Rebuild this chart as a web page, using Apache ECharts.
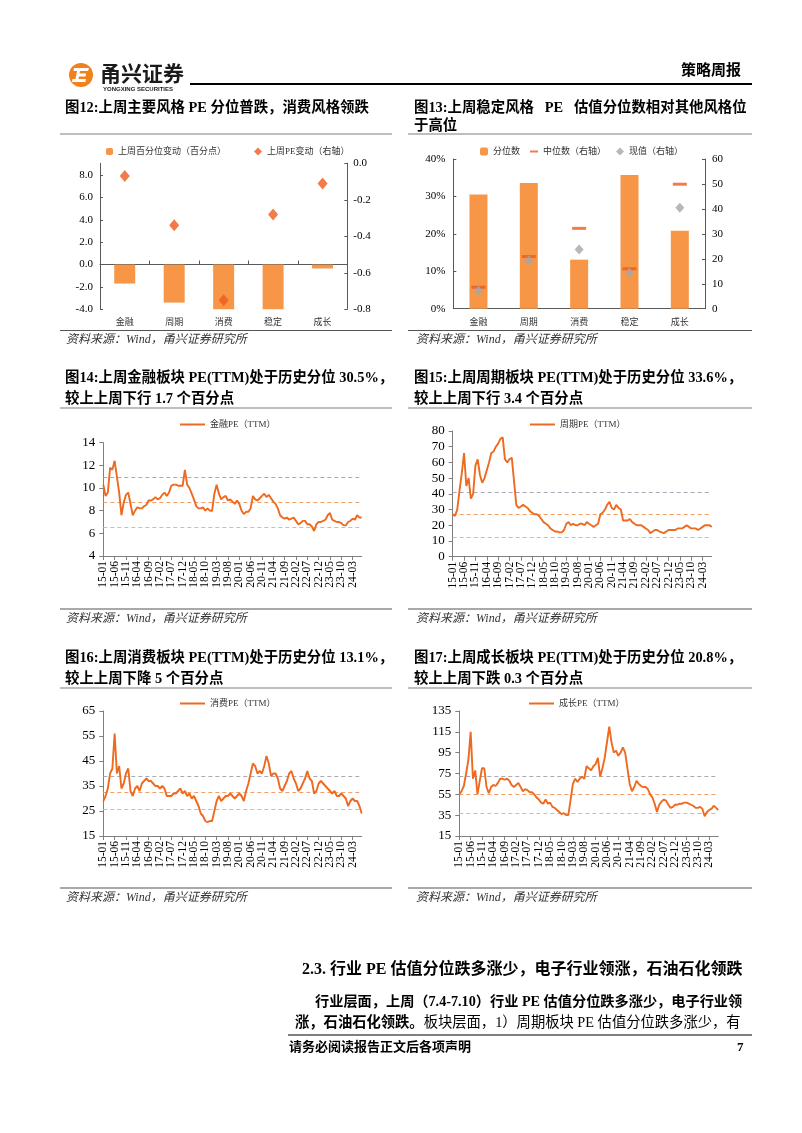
<!DOCTYPE html>
<html><head><meta charset="utf-8">
<script src="https://cdn.jsdelivr.net/npm/echarts@6/dist/echarts.min.js"></script>
<style>html,body{margin:0;padding:0;background:#fff}#c{width:802px;height:1133px}</style>
</head><body><div id="c"></div>
<script>
// ---------- data ----------
const styleCats = ['金融','周期','消费','稳定','成长'];
// Fig 12
const pctChange = [-1.7, -3.4, -4.1, -4.05, -0.35];
const peChange = [-0.07, -0.34, -0.75, -0.28, -0.11];
// Fig 13
const pctRank = [30.5, 33.6, 13.1, 35.7, 20.8];
const medianPE = [8.6, 20.9, 32.2, 16.0, 49.9];
const currentPE = [7.2, 19.3, 23.7, 14.4, 40.5];
// monthly categories 2015-01 .. 2024-07
const months = [];
for (let y = 2015; y <= 2024; y++) for (let m = 1; m <= 12; m++) { if (y === 2024 && m > 7) break; months.push(String(y).slice(2) + '-' + String(m).padStart(2, '0')); }
const finPE = [
 10.3, 9.3, 9.6, 11.8, 11.6, 12.4, 11.0, 9.6, 7.6, 8.7, 9.4, 9.6,
 8.6, 7.6, 8.0, 8.3, 8.2, 8.2, 8.4, 8.5, 8.9, 8.9, 9.0, 9.2,
 9.0, 9.1, 9.4, 9.6, 9.3, 9.6, 10.2, 10.3, 10.3, 10.2, 10.2, 10.2,
 11.6, 10.3, 10.0, 9.5, 9.0, 8.4, 8.2, 8.2, 8.3, 8.0, 8.2, 8.0,
 8.0, 9.5, 10.3, 9.5, 9.0, 9.2, 9.3, 8.9, 9.0, 8.8, 8.6, 8.9,
 8.6, 8.0, 7.7, 7.9, 7.9, 8.2, 9.3, 9.0, 8.9, 9.1, 9.3, 9.5,
 9.2, 9.4, 9.1, 8.8, 8.6, 8.2, 7.6, 7.4, 7.3, 7.4, 7.2, 7.3,
 7.4, 7.1, 6.8, 6.9, 7.1, 7.1, 6.8, 6.8, 6.6, 6.2, 6.8, 7.0,
 7.0, 7.1, 7.2, 7.6, 7.8, 7.2, 7.1, 7.0, 7.0, 6.9, 6.7, 6.7,
 7.0, 7.1, 7.3, 7.2, 7.6, 7.4, 7.4];
const cycPE = [
 27, 26, 30, 42, 53, 66, 45, 50, 37, 40, 58, 62,
 52, 47, 50, 55, 60, 66, 67, 70, 72, 75, 76, 62,
 60, 62, 63, 48, 33, 31, 32, 33, 32, 31, 29, 28,
 27, 27, 26, 24, 22, 21, 20, 18, 17, 16, 16, 15.5,
 15.5, 17, 21, 22, 20, 21, 20, 20, 21, 21, 20, 22,
 21, 20, 19, 20, 21, 27, 28, 30, 33, 35, 31, 30,
 33, 31, 30, 23, 23, 23, 24, 22, 21, 20, 20, 20,
 19, 18, 17, 15, 16, 17, 17, 16, 15.5, 15, 16, 17,
 17, 17, 17, 18, 18, 18, 19, 20, 19, 18, 18, 18,
 17, 18, 19, 20, 20, 20, 19];
const conPE = [
 29, 31, 34, 40, 42, 56, 40, 43, 34, 36, 40, 42,
 33, 31, 34, 35, 33, 36, 37, 38, 37, 37, 36, 35,
 35, 34, 35, 34, 31, 31, 31, 32, 32, 33, 34, 32,
 33, 31, 32, 30, 31, 29, 27, 24, 23, 21, 20.5, 21,
 21, 25, 29, 31, 29, 30, 31, 31, 32, 31, 30, 31,
 32, 31, 29, 33, 36, 40, 44, 43, 40, 41, 40, 43,
 47, 44, 39, 40, 40, 38, 34, 33, 35, 37, 40, 41,
 38, 36, 33, 34, 36, 38, 41, 38, 37, 32, 33, 36,
 37, 36, 35, 34, 33, 32, 33, 31, 31, 32, 31, 30,
 27, 29, 30, 29, 29, 27, 24];
const groPE = [
 55, 58, 63, 75, 88, 115, 70, 78, 55, 68, 80, 80,
 62, 56, 62, 64, 63, 66, 70, 70, 69, 70, 68, 64,
 62, 64, 66, 62, 58, 60, 59, 57, 57, 55, 52, 50,
 47, 46, 50, 46, 47, 43, 42, 40, 38, 36, 37, 35,
 35, 50, 65, 70, 67, 70, 72, 70, 82, 80, 78, 82,
 84, 90, 72, 80, 90, 105, 120, 105, 95, 97, 92, 95,
 100, 95, 80, 65, 58, 62, 68, 65, 63, 62, 62, 60,
 55, 52, 46, 38, 45, 48, 50, 49, 45, 42, 43, 45,
 45, 46, 46, 47, 47, 46, 45, 44, 42, 42, 43, 41,
 34, 38, 40, 41, 44, 42, 40];
// reference (dashed) levels: [upper, middle, lower]
const finBands = [10.95, 8.75, 6.55];
const cycBands = [41, 27.2, 12.5];
const conBands = [39, 32.4, 25.7];
const groBands = [72.8, 55, 37];
const labelEvery = 5; // one x label every 5 months

// ---------- styles ----------
const SER = "'Liberation Serif','Noto Sans CJK SC',serif";
const CJK = "'Noto Sans CJK SC','Liberation Serif',sans-serif";
const ORANGE = '#F79646', RED = '#EE5A1E', LINE = '#EE6A1F', GREY = '#A6A6A6';
const AX = '#7F7F7F';

function T(x, y, text, font, extra) {
  return { type: 'text', x: x, y: y, silent: true, z: 10,
    style: Object.assign({ text: text, font: font, fill: '#000', verticalAlign: 'middle', align: 'left' }, extra || {}) };
}
function L(x1, y1, x2, y2, color, w) {
  return { type: 'line', silent: true, shape: { x1: x1, y1: y1, x2: x2, y2: y2 }, style: { stroke: color, lineWidth: w } };
}
const titleFont = 'bold 14.4px ' + SER;
const srcFont = 'italic 12px ' + SER;
const srcText = '资料来源：Wind，甬兴证券研究所';

const graphics = [
  // header
  { type: 'circle', silent: true, shape: { cx: 81, cy: 75, r: 12 }, style: { fill: '#F0821E' } },
  { type: 'polygon', silent: true, shape: { points: [[74,68],[89,68],[88,71],[80,71],[79.5,73.5],[86,73.5],[85.5,76.5],[79,76.5],[78.5,79],[86,79],[85.5,82],[72,82],[72.5,79],[75.5,79],[77,71],[73.5,71]] }, style: { fill: '#fff' } },
  T(100, 73, '甬兴证券', 'bold 21px ' + CJK, { fill: '#1a1a1a' }),
  T(103, 89, 'YONGXING SECURITIES', 'bold 6px Liberation Sans', { fill: '#1a1a1a' }),
  L(190, 84, 752, 84, '#000', 2),
  T(741, 69, '策略周报', 'bold 15px ' + CJK, { align: 'right' }),
  // fig 12
  T(65, 108, '图12:上周主要风格 PE 分位普跌，消费风格领跌', titleFont),
  L(60, 134, 392, 134, AX, 1.2),
  L(60, 330.5, 392, 330.5, '#555', 1.2),
  T(66, 340, srcText, srcFont, { fill: '#333' }),
  // fig 13
  T(414, 108, '图13:上周稳定风格   PE   估值分位数相对其他风格位', titleFont),
  T(414, 126, '于高位', titleFont),
  L(408, 134, 752, 134, AX, 1.2),
  L(408, 330.5, 752, 330.5, '#555', 1.2),
  T(416, 340, srcText, srcFont, { fill: '#333' }),
  // fig 14
  T(65, 378, '图14:上周金融板块 PE(TTM)处于历史分位 30.5%，', titleFont),
  T(65, 399, '较上上周下行 1.7 个百分点', titleFont),
  L(60, 408, 392, 408, AX, 1.2),
  L(60, 609, 392, 609, '#555', 1.2),
  T(66, 619, srcText, srcFont, { fill: '#333' }),
  // fig 15
  T(414, 378, '图15:上周周期板块 PE(TTM)处于历史分位 33.6%，', titleFont),
  T(414, 399, '较上上周下行 3.4 个百分点', titleFont),
  L(408, 408, 752, 408, AX, 1.2),
  L(408, 609, 752, 609, '#555', 1.2),
  T(416, 619, srcText, srcFont, { fill: '#333' }),
  // fig 16
  T(65, 658, '图16:上周消费板块 PE(TTM)处于历史分位 13.1%，', titleFont),
  T(65, 679, '较上上周下降 5 个百分点', titleFont),
  L(60, 688, 392, 688, AX, 1.2),
  L(60, 888, 392, 888, '#555', 1.2),
  T(66, 898, srcText, srcFont, { fill: '#333' }),
  // fig 17
  T(414, 658, '图17:上周成长板块 PE(TTM)处于历史分位 20.8%，', titleFont),
  T(414, 679, '较上上周下跌 0.3 个百分点', titleFont),
  L(408, 688, 752, 688, AX, 1.2),
  L(408, 888, 752, 888, '#555', 1.2),
  T(416, 898, srcText, srcFont, { fill: '#333' }),
  // body text
  T(302, 970, '2.3. 行业 PE 估值分位跌多涨少，电子行业领涨，石油石化领跌', 'bold 16px ' + SER),
  T(315, 1002, '行业层面，上周（7.4-7.10）行业 PE 估值分位跌多涨少，电子行业领', 'bold 14.2px ' + SER),
  { type: 'text', x: 295, y: 1023, silent: true, style: { text: '{b|涨，石油石化领跌。}{n|板块层面，1）周期板块 PE 估值分位跌多涨少，有}', verticalAlign: 'middle', align: 'left',
      rich: { b: { font: 'bold 14.3px ' + SER, fill: '#000' }, n: { font: '14.3px ' + SER, fill: '#000' } } } },
  L(288, 1035, 752, 1035, '#000', 1.2),
  T(289, 1048, '请务必阅读报告正文后各项声明', 'bold 13px ' + SER),
  T(737, 1048, '7', 'bold 13px ' + SER)
];

// ---------- axes ----------
const catLabel = { fontFamily: CJK, fontSize: 9, color: '#333' };
const numLabel = { fontFamily: SER, fontSize: 11, color: '#000' };
const everyN = idx => idx % labelEvery === 0;
function catAxis(grid, data, extra) {
  return Object.assign({ type: 'category', gridIndex: grid, data: data }, extra);
}
function tsX(grid) {
  return { type: 'category', gridIndex: grid, data: months, boundaryGap: false,
    axisLine: { lineStyle: { color: AX, width: 1 } },
    axisTick: { show: true, interval: everyN, length: 4, lineStyle: { color: AX } },
    axisLabel: { interval: everyN, showMinLabel: true, showMaxLabel: true, hideOverlap: false, rotate: 90, margin: 5, fontFamily: SER, fontSize: 11.5, color: '#000' },
    splitLine: { show: false } };
}
function tsY(grid, min, max, step) {
  return { type: 'value', gridIndex: grid, min: min, max: max, interval: step,
    axisLine: { show: true, lineStyle: { color: AX, width: 1 } },
    axisTick: { show: true, length: 4, lineStyle: { color: AX } },
    axisLabel: { fontFamily: SER, fontSize: 13, color: '#000', margin: 8 },
    splitLine: { show: false } };
}
function tsSeries(name, data, xi, yi, bands) {
  const cols = ['#A9A9B8', '#F2A065', '#F5C518'];
  return { type: 'line', name: name, xAxisIndex: xi, yAxisIndex: yi, data: data, showSymbol: false, symbol: 'none',
    lineStyle: { color: LINE, width: 1.9 }, itemStyle: { color: LINE }, z: 3,
    markLine: { silent: true, symbol: 'none', label: { show: false }, animation: false, z: 1,
      data: bands.map((v, i) => ({ yAxis: v, lineStyle: { color: cols[i], type: [4, 3], width: 1.2 } })) } };
}
const tsLegend = (name, left, top) => ({ data: [name], left: left, top: top, padding: 0, itemWidth: 25, itemHeight: 10,
  icon: 'path://M0,0 L25,0 L25,2 L0,2 Z', textStyle: { fontFamily: SER, fontSize: 9, color: '#333' } });

const option = {
  animation: false,
  backgroundColor: '#fff',
  graphic: { elements: graphics },
  grid: [
    { left: 100, top: 163.3, width: 247.3, height: 146 },
    { left: 453.3, top: 159, width: 251.7, height: 149.7 },
    { left: 103.3, top: 442.7, width: 258.4, height: 113.3 },
    { left: 452.7, top: 431, width: 259, height: 125.7 },
    { left: 103.3, top: 711, width: 258.4, height: 125 },
    { left: 459.3, top: 711, width: 259, height: 125 }
  ],
  legend: [
    { data: ['上周百分位变动（百分点）'], left: 106, top: 147, padding: 0, itemWidth: 7, itemHeight: 7, textStyle: { fontFamily: SER, fontSize: 9, color: '#333' } },
    { data: ['上周PE变动（右轴）'], left: 254, top: 147, padding: 0, itemWidth: 8, itemHeight: 8, textStyle: { fontFamily: SER, fontSize: 9, color: '#333' } },
    { data: ['分位数', { name: '中位数（右轴）', icon: 'path://M0,0 L10,0 L10,2.5 L0,2.5 Z' }, '现值（右轴）'], left: 480, top: 147, padding: 0, itemWidth: 8, itemHeight: 8, itemGap: 10,
      textStyle: { fontFamily: SER, fontSize: 9, color: '#333' } },
    tsLegend('金融PE（TTM）', 180, 420),
    tsLegend('周期PE（TTM）', 530, 420),
    tsLegend('消费PE（TTM）', 180, 699),
    tsLegend('成长PE（TTM）', 529, 699)
  ],
  xAxis: [
    catAxis(0, styleCats, { position: 'bottom', axisLine: { show: false, onZero: false }, axisTick: { show: false }, axisLabel: Object.assign({ margin: 8 }, catLabel) }),
    catAxis(0, styleCats, { position: 'bottom', axisLine: { show: true, onZero: true, lineStyle: { color: '#595959' } }, axisTick: { show: true, inside: true, length: 4, lineStyle: { color: '#595959' } }, axisLabel: { show: false } }),
    catAxis(1, styleCats, { position: 'bottom', axisLine: { show: true, lineStyle: { color: '#595959' } }, axisTick: { show: false }, axisLabel: Object.assign({ margin: 8 }, catLabel) }),
    tsX(2), tsX(3), tsX(4), tsX(5)
  ],
  yAxis: [
    { type: 'value', gridIndex: 0, min: -4, max: 9.05, interval: 2, position: 'left', splitLine: { show: false },
      axisLine: { show: true, lineStyle: { color: '#595959' } }, axisTick: { show: true, inside: true, length: 3, lineStyle: { color: '#595959' } },
      axisLabel: Object.assign({ margin: 7, showMaxLabel: false, formatter: v => v.toFixed(1) }, numLabel) },
    { type: 'value', gridIndex: 0, min: -0.8, max: 0, interval: 0.2, position: 'right', splitLine: { show: false },
      axisLine: { show: true, lineStyle: { color: '#595959' } }, axisTick: { show: true, inside: true, length: 3, lineStyle: { color: '#595959' } },
      axisLabel: Object.assign({ margin: 6, formatter: v => v.toFixed(1) }, numLabel) },
    { type: 'value', gridIndex: 1, min: 0, max: 40, interval: 10, position: 'left', splitLine: { show: false },
      axisLine: { show: true, lineStyle: { color: '#595959' } }, axisTick: { show: true, inside: true, length: 3, lineStyle: { color: '#595959' } },
      axisLabel: Object.assign({ margin: 8, formatter: '{value}%' }, numLabel) },
    { type: 'value', gridIndex: 1, min: 0, max: 60, interval: 10, position: 'right', splitLine: { show: false },
      axisLine: { show: true, lineStyle: { color: '#595959' } }, axisTick: { show: true, inside: true, length: 3, lineStyle: { color: '#595959' } },
      axisLabel: Object.assign({ margin: 7 }, numLabel) },
    tsY(2, 4, 14, 2), tsY(3, 0, 80, 10), tsY(4, 15, 65, 10), tsY(5, 15, 135, 20)
  ],
  series: [
    { type: 'bar', name: '上周百分位变动（百分点）', xAxisIndex: 0, yAxisIndex: 0, data: pctChange, barWidth: 21, itemStyle: { color: ORANGE } },
    { type: 'scatter', name: '上周PE变动（右轴）', xAxisIndex: 0, yAxisIndex: 1, data: peChange, symbol: 'diamond', symbolSize: [10, 12], itemStyle: { color: RED }, z: 5 },
    { type: 'bar', name: '分位数', xAxisIndex: 2, yAxisIndex: 2, data: pctRank, barWidth: 18, itemStyle: { color: ORANGE } },
    { type: 'scatter', name: '中位数（右轴）', xAxisIndex: 2, yAxisIndex: 3, data: medianPE, symbol: 'rect', symbolSize: [14, 3], itemStyle: { color: RED }, z: 5 },
    { type: 'scatter', name: '现值（右轴）', xAxisIndex: 2, yAxisIndex: 3, data: currentPE, symbol: 'diamond', symbolSize: [9, 10], itemStyle: { color: GREY }, z: 6 },
    tsSeries('金融PE（TTM）', finPE, 3, 4, finBands),
    tsSeries('周期PE（TTM）', cycPE, 4, 5, cycBands),
    tsSeries('消费PE（TTM）', conPE, 5, 6, conBands),
    tsSeries('成长PE（TTM）', groPE, 6, 7, groBands)
  ]
};
const chart = echarts.init(document.getElementById('c'), null, { renderer: 'canvas', width: 802, height: 1133 });
chart.setOption(option);
</script></body></html>
